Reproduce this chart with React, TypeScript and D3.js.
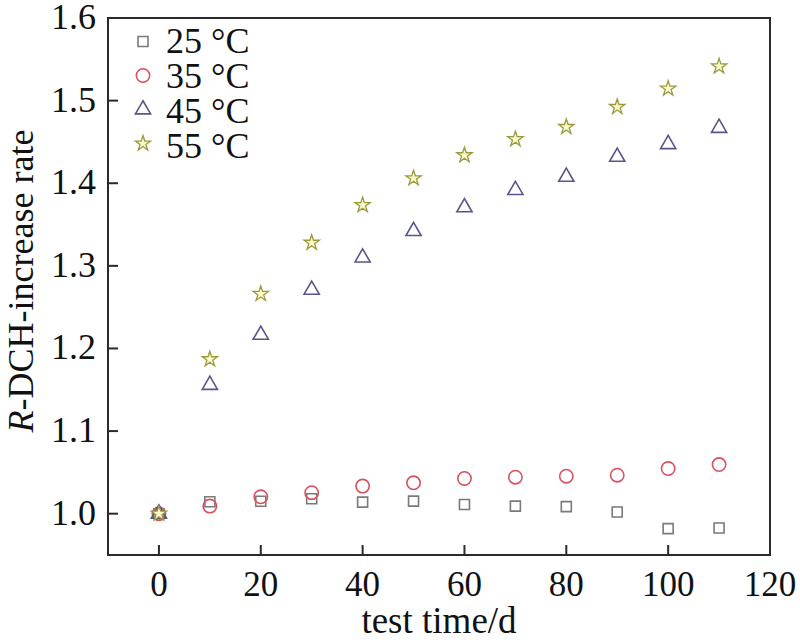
import React from "react";
import * as d3 from "d3";

const days = [0, 10, 20, 30, 40, 50, 60, 70, 80, 90, 100, 110];
const s25 = [1.0, 1.0145, 1.015, 1.018, 1.014, 1.0152, 1.0112, 1.0092, 1.0085, 1.002, 0.9819, 0.9826];
const s35 = [1.0, 1.0092, 1.0205, 1.0254, 1.0334, 1.0374, 1.0426, 1.0442, 1.0454, 1.0466, 1.0547, 1.0595];
const s45 = [1.0, 1.1558, 1.2165, 1.271, 1.31, 1.342, 1.3708, 1.3917, 1.4077, 1.4319, 1.4472, 1.4669];
const s55 = [1.0, 1.187, 1.266, 1.328, 1.3735, 1.406, 1.4339, 1.4533, 1.4681, 1.4923, 1.5145, 1.5414];
const seriesNames = ["25 °C", "35 °C", "45 °C", "55 °C"];
const xTicks = [0, 20, 40, 60, 80, 100, 120];
const yTicks = [1.0, 1.1, 1.2, 1.3, 1.4, 1.5, 1.6];

const W = 800;
const H = 644;
const L = 108, R = 770, T = 18, B = 555;
const FONT = "'Liberation Serif', 'Times New Roman', serif";

const series = [
  { name: seriesNames[0], values: s25, type: d3.symbolSquare, size: 100, stroke: "#7a7a7a", fill: "none", sw: 1.6 },
  { name: seriesNames[1], values: s35, type: d3.symbolCircle, size: 140, stroke: "#d9505e", fill: "none", sw: 1.6 },
  { name: seriesNames[2], values: s45, type: d3.symbolTriangle, size: 100, stroke: "#56568c", fill: "none", sw: 1.6 },
  { name: seriesNames[3], values: s55, type: d3.symbolStar, size: 72, stroke: "#9a9a3c", fill: "#fcf9cc", sw: 1.3 },
];

export default function App() {
  const x = d3.scaleLinear().domain([-10, 120]).range([L, R]);
  const y = d3.scaleLinear().domain([0.95, 1.6]).range([B, T]);
  const axisColor = "#2a2a2a";

  return (
    <svg
      width={W}
      height={H}
      style={{ position: "absolute", left: 0, top: 0, background: "#fff" }}
      fontFamily={FONT}
    >
      <rect x={0} y={0} width={W} height={H} fill="#fff" />
      {/* ticks */}
      {xTicks.filter((t) => t < 120).map((t) => (
        <line key={"xt" + t} x1={x(t)} x2={x(t)} y1={B} y2={B - 10} stroke={axisColor} strokeWidth={2} />
      ))}
      {yTicks.filter((t) => t < 1.6).map((t) => (
        <line key={"yt" + t} x1={L} x2={L + 10} y1={y(t)} y2={y(t)} stroke={axisColor} strokeWidth={2} />
      ))}
      {/* frame */}
      <rect x={L} y={T} width={R - L} height={B - T} fill="none" stroke={axisColor} strokeWidth={2} />
      {/* tick labels */}
      {xTicks.map((t) => (
        <text key={"xl" + t} x={x(t)} y={596} fontSize={35} textAnchor="middle" fill="#111">
          {t}
        </text>
      ))}
      {yTicks.map((t) => (
        <text key={"yl" + t} x={96} y={y(t) + 11} fontSize={36} textAnchor="end" fill="#111">
          {t.toFixed(1)}
        </text>
      ))}
      {/* axis titles */}
      <text x={439} y={633} fontSize={37} textAnchor="middle" fill="#111">
        test time/d
      </text>
      <text
        transform={`translate(33,281) rotate(-90)`}
        fontSize={36}
        textAnchor="middle"
        fill="#111"
      >
        <tspan fontStyle="italic">R</tspan>-DCH-increase rate
      </text>
      {/* data */}
      {series.map((s) => {
        const path = d3.symbol().type(s.type).size(s.size)() as string;
        return (
          <g key={s.name}>
            {s.values.map((v, i) => (
              <path
                key={i}
                d={path}
                transform={`translate(${x(days[i])},${y(v)})`}
                fill={s.fill}
                stroke={s.stroke}
                strokeWidth={s.sw}
              />
            ))}
          </g>
        );
      })}
      {/* legend */}
      {series.map((s, i) => {
        const path = d3.symbol().type(s.type).size(s.size)() as string;
        const cy = 41.5 + i * 34;
        return (
          <g key={"lg" + s.name}>
            <path d={path} transform={`translate(143,${cy})`} fill={s.fill} stroke={s.stroke} strokeWidth={s.sw} />
            <text x={166} y={53 + i * 35} fontSize={36} fill="#111">
              {s.name}
            </text>
          </g>
        );
      })}
    </svg>
  );
}
